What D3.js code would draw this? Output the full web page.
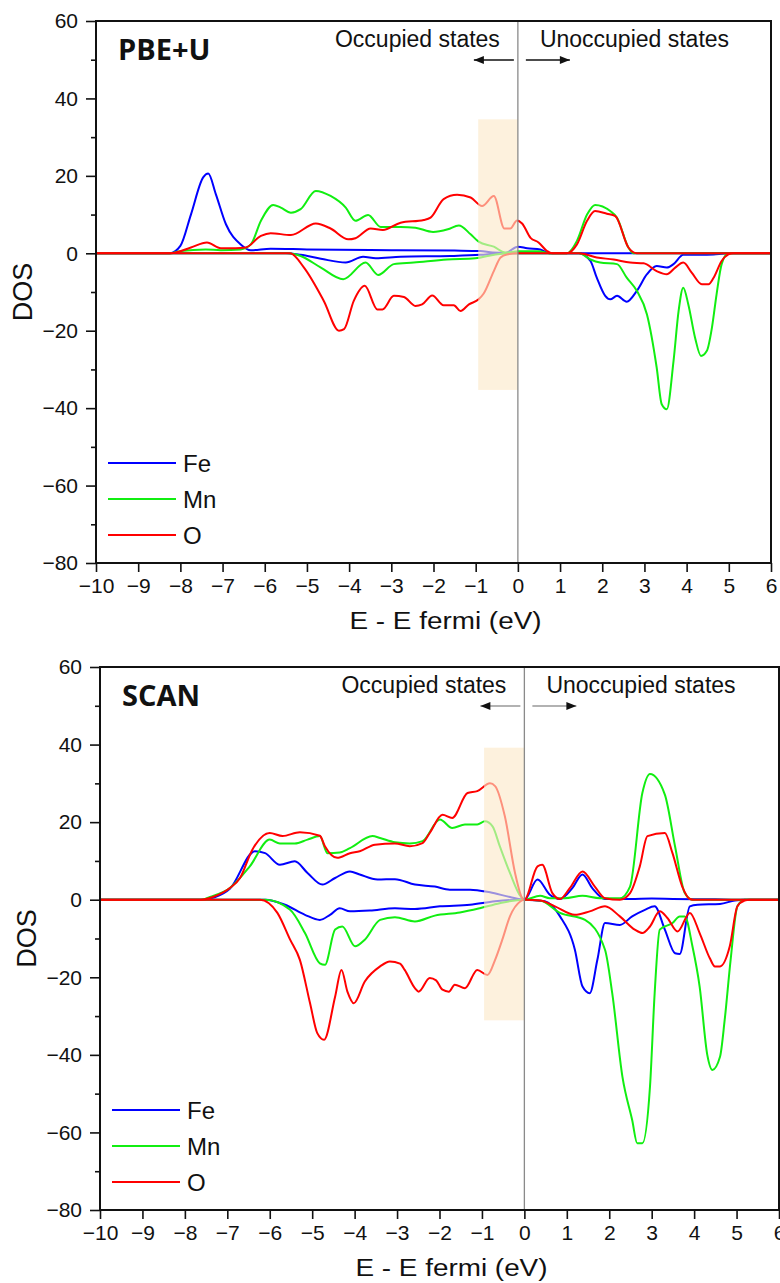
<!DOCTYPE html>
<meta charset="utf-8">
<title>DOS PBE+U / SCAN</title>
<style>
body{margin:0;background:#fff;}
text{font-family:"Liberation Sans",Arial,sans-serif;fill:#111;}
.tick text{font-size:21px;}
.tick line{stroke:#111;stroke-width:1.6px;}
.domain{display:none;}
.frame{fill:none;stroke:#111;stroke-width:2px;}
.dos{fill:none;stroke-width:2px;stroke-linejoin:round;}
.title{font-family:"Open Sans",sans-serif;font-weight:bold;font-size:29px;}
.states{font-size:23px;}
.legend text{font-size:24px;}
.axlab{font-size:23px;}
</style>
<body>
<script src="https://cdn.jsdelivr.net/npm/d3@7"></script>
<script>
// values, [E - Ef (eV), DOS]
var elements = ["Fe", "Mn", "O"];
var colors = ["#0000ff", "#11ee11", "#ff0000"];
var xTicks = [-10,-9,-8,-7,-6,-5,-4,-3,-2,-1,0,1,2,3,4,5,6];
var yTicks = [-80,-60,-40,-20,0,20,40,60];
var yMinor = [-70,-50,-30,-10,10,30,50];

var pbeFeUp = [[-10,0],[-8.25,0],[-8.0,1.9],[-7.75,10],[-7.46,19.6],[-7.34,20.6],[-7.16,15.3],[-6.92,7.5],[-6.57,2.3],[-6.33,0.8],[-5.86,1.2],[-5,1.0],[-3,0.8],[-1.5,0.7],[-0.89,0.6],[-0.6,0.2],[-0.3,0.1],[0,1.7],[0.22,1.3],[0.53,1.0],[0.75,0],[6,0]];
var pbeFeDn = [[-10,0],[-5.5,0],[-5.15,-0.4],[-4.67,-1.4],[-4.08,-2.4],[-3.67,-0.9],[-3.37,-1.3],[-2.78,-0.9],[-1.6,-0.7],[-0.89,-0.4],[-0.41,0],[1.45,0],[1.72,-2],[1.87,-6.3],[2.07,-11],[2.19,-11.9],[2.35,-11],[2.58,-12.5],[2.82,-9.7],[3.06,-5.4],[3.29,-3.3],[3.53,-3.7],[3.69,-2.8],[3.92,-0.4],[4.32,-0.4],[4.64,-0.3],[4.95,0],[6,0]];
var pbeMnUp = [[-10,0],[-8.25,0],[-7.99,0.6],[-7.4,1.0],[-7.04,0.8],[-6.57,1],[-6.33,2.3],[-6.09,8.4],[-5.8,12.5],[-5.62,11.8],[-5.38,10.5],[-5.15,11.4],[-4.79,16.1],[-4.44,14.8],[-4.08,11.8],[-3.85,8.4],[-3.55,9.9],[-3.25,6.8],[-2.78,6.8],[-2.43,6.6],[-2.01,5.5],[-1.66,6.2],[-1.4,7.2],[-1.12,4.9],[-0.93,3],[-0.57,1.7],[-0.3,0.2],[0,0.5],[0.5,0.5],[0.75,0],[1.16,0],[1.4,3.2],[1.64,10],[1.83,12.5],[2.19,10.9],[2.35,9.2],[2.62,1.5],[2.74,0],[6,0]];
var pbeMnDn = [[-10,0],[-5.45,0],[-5.15,-0.7],[-4.67,-3.7],[-4.14,-6.7],[-3.61,-2.4],[-3.31,-5.6],[-2.94,-2.8],[-2.47,-2.4],[-1.68,-1.6],[-1.01,-1.3],[-0.53,-0.3],[-0.2,0],[1.45,0],[1.72,-1.6],[1.95,-2.4],[2.35,-2.8],[2.58,-6.3],[2.82,-9.7],[3.06,-15.8],[3.29,-29.5],[3.41,-39],[3.53,-40.3],[3.69,-27.8],[3.81,-14.9],[3.92,-8.9],[4.04,-13.2],[4.2,-21.8],[4.34,-26.5],[4.48,-25.2],[4.6,-19.2],[4.71,-10.6],[4.83,-2.8],[4.99,0],[6,0]];
var pbeOUp = [[-10,0],[-8.22,0],[-7.75,1.5],[-7.37,2.8],[-7.04,1.3],[-6.69,1.3],[-6.45,1.5],[-6.09,4.5],[-5.86,5.2],[-5.38,4.7],[-4.79,7.7],[-4.44,6.4],[-4.02,3.6],[-3.85,3.9],[-3.49,6.4],[-3.2,6.0],[-2.78,7.9],[-2.23,8.6],[-2.07,9.2],[-1.76,14],[-1.44,15.1],[-1.12,14.4],[-0.85,12.2],[-0.57,14.8],[-0.32,6.4],[-0.18,6.4],[-0.02,8.5],[0.1,7.7],[0.3,4],[0.49,2.8],[0.69,0.6],[0.81,0],[1.16,0],[1.4,2.3],[1.64,8.4],[1.83,10.9],[2.11,10.2],[2.31,9.6],[2.62,1.5],[2.82,0],[6,0]];
var pbeODn = [[-10,0],[-5.4,0],[-5.07,-3.7],[-4.6,-12.3],[-4.24,-20],[-4.12,-19.6],[-3.89,-12.3],[-3.63,-8.4],[-3.33,-14.5],[-3.21,-14.5],[-2.94,-11],[-2.7,-11.3],[-2.43,-13.6],[-2.27,-13.2],[-2.03,-10.9],[-1.76,-13.4],[-1.52,-13.4],[-1.36,-14.9],[-1.16,-13.2],[-0.93,-11.9],[-0.81,-10.4],[-0.57,-4.6],[-0.41,-1.1],[-0.26,-0.3],[0,0],[1.45,0],[1.87,-1.1],[2.27,-1.6],[2.66,-2.4],[2.98,-2.6],[3.29,-4.6],[3.53,-5.4],[3.73,-3.7],[3.92,-2.4],[4.12,-5],[4.36,-8],[4.52,-8],[4.64,-6.3],[4.83,-2],[4.99,-0.3],[5.1,0],[6,0]];

var scanFeUp = [[-10,0],[-7.6,0],[-7.3,0.6],[-6.94,2.8],[-6.35,12.5],[-6.11,12],[-5.76,9],[-5.41,9.9],[-5.11,6.9],[-4.76,3.9],[-4.46,5.6],[-4.11,7.3],[-3.88,6.5],[-3.46,5.2],[-3.05,5.3],[-2.58,3.9],[-2.11,3.4],[-1.76,2.6],[-1.28,2.6],[-0.81,1.9],[-0.34,0.7],[0,0],[0.31,5.2],[0.6,1.3],[0.84,0.2],[1.13,3],[1.37,6.5],[1.6,3],[1.9,0.2],[2.5,0.2],[3.0,0.3],[3.5,0.2],[4.5,0.1],[5.0,0],[6,0]];
var scanFeDn = [[-10,0],[-6.1,0],[-5.64,-1.3],[-5.17,-3.9],[-4.82,-5.2],[-4.58,-3.9],[-4.35,-2.2],[-4.11,-3],[-3.64,-2.8],[-3.05,-2.2],[-2.58,-2.4],[-1.99,-1.7],[-1.28,-1.3],[-0.69,-0.4],[0,0],[0.48,-0.4],[0.84,-4.3],[1.19,-12.9],[1.37,-22.4],[1.54,-24.1],[1.72,-15.5],[1.9,-6],[2.25,-6.5],[2.54,-4.3],[2.84,-2.6],[3.07,-1.7],[3.31,-7.7],[3.55,-13.8],[3.66,-14],[3.9,-1.7],[4.08,-1.3],[4.61,-1.1],[4.96,-0.2],[5.2,0],[6,0]];
var scanMnUp = [[-10,0],[-7.6,0],[-7.41,0.7],[-6.94,3],[-6.47,8.6],[-6.0,15.5],[-5.76,14.5],[-5.41,14.5],[-5.11,15.5],[-4.82,16.4],[-4.64,12],[-4.35,12.2],[-4.11,13.3],[-3.58,16.4],[-3.4,15.9],[-3.05,14.8],[-2.7,14.5],[-2.4,15.1],[-1.99,20.7],[-1.7,18.5],[-1.4,19.4],[-1.11,19.4],[-0.93,20.2],[-0.75,18.9],[-0.58,13.8],[-0.34,6.9],[-0.09,0.9],[0,0],[0.37,1],[0.6,0.4],[0.95,0.4],[1.37,1],[1.78,0.4],[2.25,0.4],[2.49,3.4],[2.78,27.5],[2.96,32.4],[3.31,27.1],[3.55,13.8],[3.78,1.7],[3.96,0],[6,0]];
var scanMnDn = [[-10,0],[-6.1,0],[-5.52,-2.6],[-5.17,-8.6],[-4.82,-16.4],[-4.7,-16.8],[-4.46,-7.7],[-4.29,-6.9],[-3.99,-12],[-3.76,-10.3],[-3.4,-5.2],[-3.05,-4.5],[-2.58,-5.6],[-2.11,-4.1],[-1.52,-3.3],[-1.05,-2.2],[-0.58,-0.9],[0,0],[0.37,-0.2],[0.84,-3.4],[1.43,-5.2],[1.9,-12.9],[2.07,-24.1],[2.31,-45.6],[2.54,-56.8],[2.66,-62.8],[2.78,-62.8],[2.96,-48.2],[3.07,-24.1],[3.19,-7.7],[3.49,-6],[3.66,-4.3],[3.78,-4.3],[3.96,-12],[4.13,-22.4],[4.31,-40],[4.43,-43.9],[4.61,-40.5],[4.72,-31],[4.86,-15.5],[5.02,-1.7],[5.19,0],[6,0]];
var scanOUp = [[-10,0],[-7.64,0],[-7.29,0.9],[-6.94,3],[-6.7,5.6],[-6.41,12.9],[-6.0,17.2],[-5.7,16.4],[-5.29,17.4],[-4.82,16.5],[-4.7,13.8],[-4.41,10.8],[-4.11,12],[-3.88,12.5],[-3.52,14.2],[-3.05,14.5],[-2.7,13.8],[-2.4,14.6],[-2.23,17.2],[-1.93,21.9],[-1.7,21.1],[-1.34,27.5],[-1.11,28],[-0.81,30],[-0.69,29.3],[-0.46,21.5],[-0.22,6.9],[-0.05,0.4],[0,0],[0.31,8.6],[0.42,9],[0.66,1.7],[0.84,0.2],[1.07,3],[1.37,7.3],[1.66,3.4],[1.9,0.4],[2.25,0],[2.49,1.7],[2.72,8.6],[2.9,16.4],[3.31,17.2],[3.49,12],[3.72,3.4],[3.9,0.2],[4.0,0],[6,0]];
var scanODn = [[-10,0],[-6.23,0],[-5.82,-3.4],[-5.52,-10.3],[-5.29,-15.5],[-5.05,-26.7],[-4.88,-34.4],[-4.72,-36.1],[-4.46,-25],[-4.31,-18.1],[-4.17,-23.7],[-4.02,-26.7],[-3.76,-21.1],[-3.4,-17.2],[-3.17,-15.9],[-2.93,-16.5],[-2.82,-18.1],[-2.58,-22.8],[-2.49,-23.7],[-2.23,-20.2],[-2.08,-20.8],[-1.93,-23.2],[-1.78,-23.7],[-1.64,-21.9],[-1.4,-22.8],[-1.11,-18.1],[-0.87,-19.4],[-0.69,-15.5],[-0.52,-10.3],[-0.34,-4.3],[-0.09,-0.4],[0,0],[0.37,-0.2],[0.72,-1.7],[1.19,-3.9],[1.54,-3],[1.9,-1.7],[2.25,-4.3],[2.6,-7.7],[2.78,-8.6],[2.96,-6.9],[3.19,-3],[3.37,-4.7],[3.61,-8.2],[3.9,-3.4],[4.13,-8.6],[4.37,-15.1],[4.49,-17.2],[4.61,-17.2],[4.84,-12],[5.02,-1.7],[5.19,-0.2],[5.3,0],[6,0]];

// shaded band: [E from, E to, DOS top, DOS bottom]
var pbeBand = [-0.94, 0, 34.6, -35.3];
var scanBand = [-0.95, 0, 39.2, -31.1];

var panels = [
  {name:"PBE+U", l:96, r:771, t:21, b:563, series:[[pbeFeUp,pbeFeDn],[pbeMnUp,pbeMnDn],[pbeOUp,pbeODn]], band:pbeBand, arrowGrey:false},
  {name:"SCAN", l:100, r:779, t:667, b:1210, series:[[scanFeUp,scanFeDn],[scanMnUp,scanMnDn],[scanOUp,scanODn]], band:scanBand, arrowGrey:true}
];

var svg = d3.select("body").append("svg").attr("width",780).attr("height",1283);

var defs = svg.append("defs");
defs.append("marker").attr("id","head").attr("viewBox","0 0 10 8")
  .attr("refX",10).attr("refY",4).attr("markerWidth",13).attr("markerHeight",8)
  .attr("markerUnits","userSpaceOnUse").attr("orient","auto")
  .append("path").attr("d","M0,0L10,4L0,8Z").attr("fill","#111");

panels.forEach(function(p){
  var x = d3.scaleLinear().domain([-10,6]).range([p.l,p.r]);
  var y = d3.scaleLinear().domain([-80,60]).range([p.b,p.t]);
  var g = svg.append("g");

  var line = d3.line().x(d=>x(d[0])).y(d=>y(d[1])).curve(d3.curveMonotoneX);

  p.series.forEach(function(s,i){
    s.forEach(function(arr){
      g.append("path").attr("class","dos").attr("d",line(arr)).attr("stroke",colors[i]);
    });
  });

  // translucent band over the curves
  g.append("rect")
    .attr("x",x(p.band[0])).attr("width",x(p.band[1])-x(p.band[0]))
    .attr("y",y(p.band[2])).attr("height",y(p.band[3])-y(p.band[2]))
    .attr("fill","rgb(252,232,200)").attr("fill-opacity",0.62);

  // fermi level
  g.append("line").attr("x1",x(0)).attr("x2",x(0)).attr("y1",p.t).attr("y2",p.b)
    .attr("stroke","#8a8a8a").attr("stroke-width",1.3);

  g.append("rect").attr("class","frame").attr("x",p.l).attr("y",p.t)
    .attr("width",p.r-p.l).attr("height",p.b-p.t);

  g.append("g").attr("transform","translate(0,"+p.b+")")
    .call(d3.axisBottom(x).tickValues(xTicks).tickSize(9).tickPadding(6).tickFormat(d3.format("d")));
  g.append("g").attr("transform","translate("+p.l+",0)")
    .call(d3.axisLeft(y).tickValues(yTicks).tickSize(10).tickPadding(8).tickFormat(d3.format("d")));
  g.append("g").attr("transform","translate("+p.l+",0)")
    .call(d3.axisLeft(y).tickValues(yMinor).tickSize(5).tickFormat(""));

  g.append("text").attr("class","axlab").attr("text-anchor","middle")
    .attr("x",(p.l+p.r)/2+12).attr("y",p.b+66).text("E - E fermi (eV)")
    .attr("textLength",192).attr("lengthAdjust","spacingAndGlyphs");
  g.append("text").attr("class","axlab").attr("text-anchor","middle")
    .attr("transform","translate("+(p.l-64)+","+((p.t+p.b)/2)+") rotate(-90)")
    .style("font-size","27px").text("DOS");

  g.append("text").attr("class","title").attr("x",p.l+22).attr("y",p.t+39).text(p.name);

  g.append("text").attr("class","states").attr("text-anchor","end")
    .attr("x",x(0)-18).attr("y",p.t+26).text("Occupied states");
  g.append("text").attr("class","states")
    .attr("x",x(0)+22).attr("y",p.t+26).text("Unoccupied states");

  var ay = p.t + 39;
  g.append("line").attr("x1",x(0)-4).attr("x2",x(0)-44).attr("y1",ay).attr("y2",ay)
    .attr("stroke",p.arrowGrey?"#999":"#111").attr("stroke-width",1.3).attr("marker-end","url(#head)");
  g.append("line").attr("x1",x(0)+8).attr("x2",x(0)+52).attr("y1",ay).attr("y2",ay)
    .attr("stroke",p.arrowGrey?"#999":"#111").attr("stroke-width",1.3).attr("marker-end","url(#head)");

  var lg = g.append("g").attr("class","legend");
  elements.forEach(function(e,i){
    var ly = p.b - 100 + i*36;
    lg.append("line").attr("x1",p.l+12).attr("x2",p.l+80).attr("y1",ly).attr("y2",ly)
      .attr("stroke",colors[i]).attr("stroke-width",2);
    lg.append("text").attr("x",p.l+87).attr("y",ly+9).text(e);
  });
});
</script>
</body>
